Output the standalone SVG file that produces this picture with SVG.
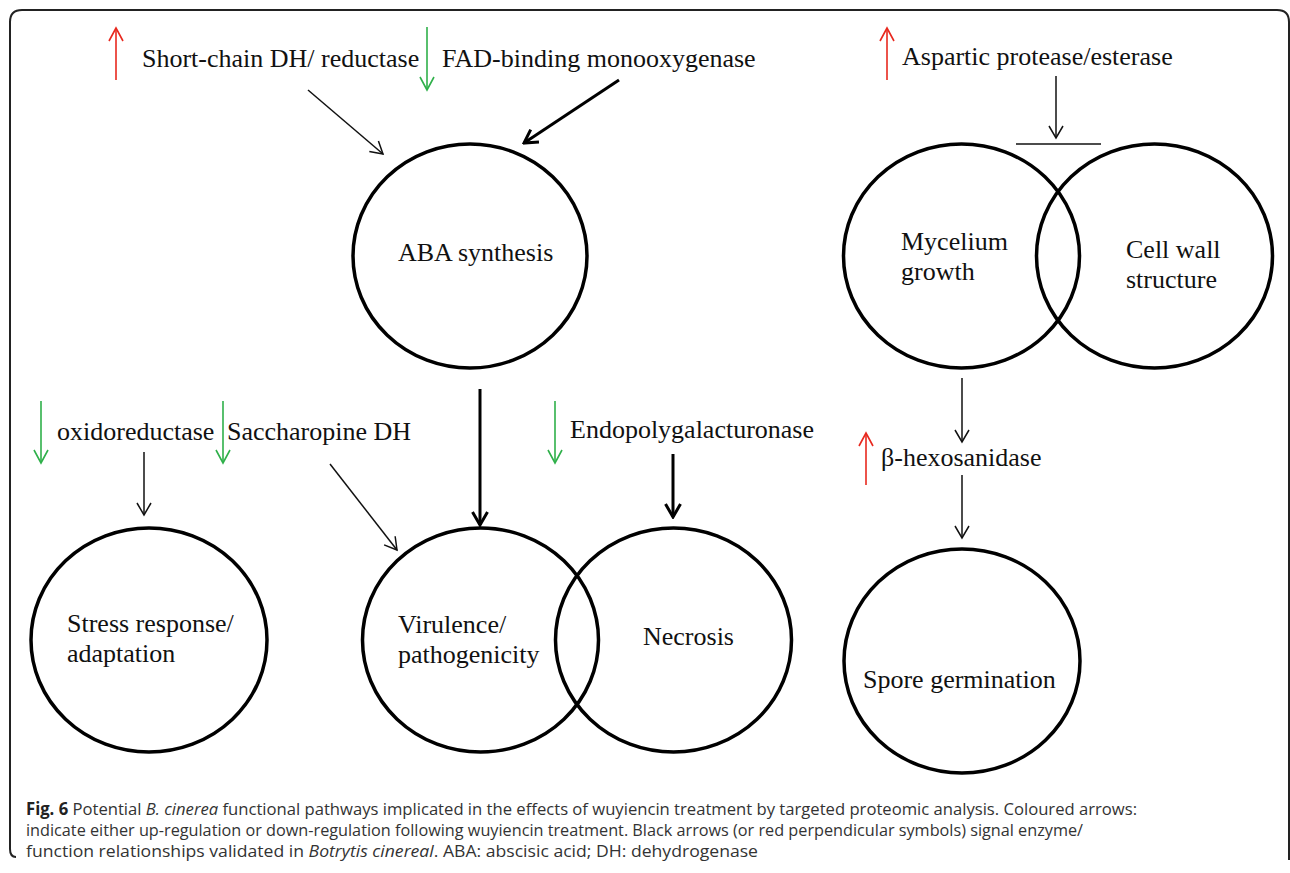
<svg xmlns="http://www.w3.org/2000/svg" width="1290" height="873" viewBox="0 0 1290 873">
<style>
.lbl{font-family:"Liberation Serif","Times New Roman",serif;font-size:26px;fill:#111}
.node{fill:none;stroke:#000;stroke-width:3.5}
.thin{stroke:#111;stroke-width:1.5;fill:none}
.thick{stroke:#000;stroke-width:3;fill:none}
.up{stroke:#e8281e;stroke-width:1.6;fill:none}
.down{stroke:#2fb04a;stroke-width:1.6;fill:none}
.cap{font-family:"Open Sans","Noto Sans","Liberation Sans",sans-serif;font-size:17px;fill:#333}
</style>
<defs>
<marker id="mThin" markerUnits="userSpaceOnUse" viewBox="-14 -9 16 18" markerWidth="16" markerHeight="18" refX="0" refY="0" orient="auto"><path d="M-12,-7 L0,0 L-12,7" fill="none" stroke="#111" stroke-width="1.5"/></marker>
<marker id="mThick" markerUnits="userSpaceOnUse" viewBox="-16 -10 18 20" markerWidth="18" markerHeight="20" refX="0" refY="0" orient="auto"><path d="M-13,-7.5 L0,0 L-13,7.5" fill="none" stroke="#000" stroke-width="3"/></marker>
<marker id="mRed" markerUnits="userSpaceOnUse" viewBox="-14 -9 16 18" markerWidth="16" markerHeight="18" refX="0" refY="0" orient="auto"><path d="M-13,-7 L0,0 L-13,7" fill="none" stroke="#e8281e" stroke-width="1.6"/></marker>
<marker id="mGreen" markerUnits="userSpaceOnUse" viewBox="-14 -9 16 18" markerWidth="16" markerHeight="18" refX="0" refY="0" orient="auto"><path d="M-13,-7 L0,0 L-13,7" fill="none" stroke="#2fb04a" stroke-width="1.6"/></marker>
</defs>
<rect width="1290" height="873" fill="#fff"/>
<path d="M16,857 Q10,857 10,849 L10,22 Q10,10 22,10 L1277,10 Q1289,10 1289,22 L1289,860" fill="none" stroke="#222" stroke-width="2"/>

<g id="n-aba"><ellipse class="node" cx="470" cy="256" rx="117" ry="112"/><text class="lbl" x="398" y="261">ABA synthesis</text></g>
<g id="n-mycelium"><ellipse class="node" cx="961.5" cy="256" rx="118" ry="112"/><text class="lbl" x="901" y="250">Mycelium</text><text class="lbl" x="901" y="280">growth</text></g>
<g id="n-cellwall"><ellipse class="node" cx="1154.5" cy="256" rx="118" ry="112"/><text class="lbl" x="1126" y="258">Cell wall</text><text class="lbl" x="1126" y="288">structure</text></g>
<g id="n-stress"><ellipse class="node" cx="149" cy="640" rx="118" ry="112"/><text class="lbl" x="67" y="632">Stress response/</text><text class="lbl" x="67" y="662">adaptation</text></g>
<g id="n-virulence"><ellipse class="node" cx="480.5" cy="640" rx="118" ry="112"/><text class="lbl" x="398" y="633">Virulence/</text><text class="lbl" x="398" y="663">pathogenicity</text></g>
<g id="n-necrosis"><ellipse class="node" cx="673.5" cy="640" rx="118" ry="112"/><text class="lbl" x="643" y="645">Necrosis</text></g>
<g id="n-spore"><ellipse class="node" cx="962" cy="661" rx="118" ry="112"/><text class="lbl" x="863" y="688">Spore germination</text></g>

<g id="n-shortchain"><text class="lbl" x="142" y="67">Short-chain DH/ reductase</text></g>
<g id="n-fad"><text class="lbl" x="442" y="67">FAD-binding monooxygenase</text></g>
<g id="n-aspartic"><text class="lbl" x="902" y="65">Aspartic protease/esterase</text></g>
<g id="n-oxido"><text class="lbl" x="57" y="440">oxidoreductase</text></g>
<g id="n-saccharopine"><text class="lbl" x="227" y="440">Saccharopine DH</text></g>
<g id="n-endo"><text class="lbl" x="570" y="438">Endopolygalacturonase</text></g>
<g id="n-hex"><text class="lbl" x="881" y="466">β-hexosanidase</text></g>

<g id="connectors">
<line class="up" x1="116" y1="80" x2="116" y2="28" marker-end="url(#mRed)"/>
<line class="down" x1="427" y1="27" x2="427" y2="90" marker-end="url(#mGreen)"/>
<line class="up" x1="887" y1="80" x2="887" y2="28" marker-end="url(#mRed)"/>
<line class="down" x1="41" y1="401" x2="41" y2="463" marker-end="url(#mGreen)"/>
<line class="down" x1="223" y1="401" x2="223" y2="463" marker-end="url(#mGreen)"/>
<line class="down" x1="555" y1="401" x2="555" y2="463" marker-end="url(#mGreen)"/>
<line class="up" x1="866" y1="485" x2="866" y2="433" marker-end="url(#mRed)"/>

<line class="thin" x1="308" y1="90" x2="383" y2="154" marker-end="url(#mThin)"/>
<line class="thick" x1="619" y1="80" x2="524" y2="143" marker-end="url(#mThick)"/>
<line class="thin" x1="1056" y1="76" x2="1056" y2="138" marker-end="url(#mThin)"/>
<line class="thin" x1="1016" y1="144" x2="1101" y2="144"/>
<line class="thin" x1="962" y1="378" x2="962" y2="442" marker-end="url(#mThin)"/>
<line class="thin" x1="962" y1="475" x2="962" y2="538" marker-end="url(#mThin)"/>
<line class="thin" x1="144" y1="452" x2="144" y2="515" marker-end="url(#mThin)"/>
<line class="thin" x1="330" y1="464" x2="397" y2="550" marker-end="url(#mThin)"/>
<line class="thick" x1="480" y1="389" x2="480" y2="525" marker-end="url(#mThick)"/>
<line class="thick" x1="673" y1="454" x2="673" y2="517" marker-end="url(#mThick)"/>
</g>

<g id="caption">
<text class="cap" x="26" y="815" textLength="1111" lengthAdjust="spacingAndGlyphs"><tspan font-weight="bold" fill="#222">Fig. 6</tspan> Potential <tspan font-style="italic">B. cinerea</tspan> functional pathways implicated in the effects of wuyiencin treatment by targeted proteomic analysis. Coloured arrows:</text>
<text class="cap" x="26" y="836" textLength="1057" lengthAdjust="spacingAndGlyphs">indicate either up-regulation or down-regulation following wuyiencin treatment. Black arrows (or red perpendicular symbols) signal enzyme/</text>
<text class="cap" x="26" y="857" textLength="732" lengthAdjust="spacingAndGlyphs">function relationships validated in <tspan font-style="italic">Botrytis cinereal</tspan>. ABA: abscisic acid; DH: dehydrogenase</text>
</g>
</svg>
